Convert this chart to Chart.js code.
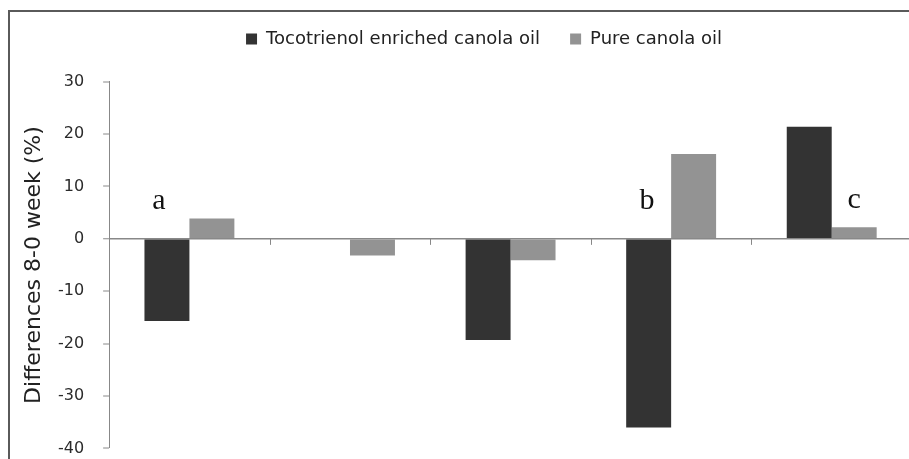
<!DOCTYPE html>
<html>
<head>
<meta charset="utf-8">
<script src="https://cdn.jsdelivr.net/npm/chart.js@4.4.1/dist/chart.umd.min.js"></script>
<style>
	body { margin: 0; background: #fff; overflow: hidden; width: 909px; height: 459px; position: relative; }
	#chart { position: absolute; left: 0; top: 0; }
	#frame { position: absolute; left: 8px; top: 10px; width: 1000px; height: 500px;
		border-top: 2px solid #5a5a5a; border-left: 2px solid #5a5a5a; pointer-events: none; }
</style>
</head>
<body>
<canvas id="chart" width="925" height="477"></canvas>
<div id="frame"></div>
<script>
// categories are cut off in the picture (x labels not visible)
const categories = ["1", "2", "3", "4", "5"];
const seriesNames = ["Tocotrienol enriched canola oil", "Pure canola oil"];
const enrichedValues = [-15.7, 0, -19.3, -36.0, 21.4];
const pureValues = [3.9, -3.2, -4.1, 16.2, 2.2];
const yTicks = { min: -40, max: 30, step: 10 };

// significance letters: text, x in category units, y value of baseline
const letters = ["a", "b", "c"];
const letterX = [-0.19, 2.85, 4.14];
const letterY = [5.7, 5.7, 5.9];

const darkColor = "#333333";
const lightColor = "#939393";
const axisColor = "#888888";

const extras = {
	id: "extras",
	afterDatasetsDraw(chart) {
		const ctx = chart.ctx;
		const x = chart.scales.x;
		const y = chart.scales.y;
		const y0 = y.getPixelForValue(0);

		// small category ticks under the zero line
		ctx.save();
		ctx.strokeStyle = axisColor;
		ctx.lineWidth = 1;
		for (let i = 1; i <= categories.length; i++) {
			const px = Math.round(x.getPixelForValue(i - 0.5)) + 0.5;
			ctx.beginPath();
			ctx.moveTo(px, y0);
			ctx.lineTo(px, y0 + 6);
			ctx.stroke();
		}

		ctx.fillStyle = "#111";
		ctx.font = "30px 'Liberation Serif', serif";
		ctx.textAlign = "center";
		ctx.textBaseline = "alphabetic";
		letters.forEach((t, i) => {
			ctx.fillText(t, x.getPixelForValue(letterX[i]), y.getPixelForValue(letterY[i]));
		});
		ctx.restore();
	},
};

const ctx = document.getElementById("chart").getContext("2d");
new Chart(ctx, {
	type: "bar",
	data: {
		labels: categories,
		datasets: [
			{ label: seriesNames[0], data: enrichedValues, backgroundColor: darkColor },
			{ label: seriesNames[1], data: pureValues, backgroundColor: lightColor },
		],
	},
	options: {
		responsive: false,
		animation: false,
		devicePixelRatio: 1,
		categoryPercentage: 0.56,
		barPercentage: 1,
		layout: { padding: { left: 56, right: 13, top: 0, bottom: 12 } },
		plugins: {
			tooltip: { enabled: false },
			legend: {
				position: "top",
				weight: 3000,
				labels: {
					boxWidth: 11,
					boxHeight: 11,
					padding: 30,
					color: "#222",
					font: { family: "'DejaVu Sans', sans-serif", size: 18 },
				},
			},
			// empty title used only as a gap between legend and plot
			title: {
				display: true,
				text: "",
				font: { size: 10 },
				padding: { top: 0, bottom: 11.7 },
			},
		},
		scales: {
			x: { display: false },
			y: {
				min: yTicks.min,
				max: yTicks.max,
				ticks: {
					stepSize: yTicks.step,
					padding: 19,
					color: "#2b2b2b",
					font: { family: "'DejaVu Sans', sans-serif", size: 16 },
				},
				grid: {
					color: (c) => (c.tick && c.tick.value === 0 ? axisColor : "rgba(0,0,0,0)"),
					lineWidth: (c) => (c.tick && c.tick.value === 0 ? 1.5 : 0),
					tickColor: axisColor,
					tickLength: 6,
					tickWidth: 1,
				},
				border: { color: axisColor, width: 1 },
				title: {
					display: true,
					text: "Differences 8-0 week (%)",
					color: "#222",
					font: { family: "'DejaVu Sans', sans-serif", size: 22 },
					padding: { top: -35.2, bottom: -8.2 },
				},
			},
		},
	},
	plugins: [extras],
});
</script>
</body>
</html>
